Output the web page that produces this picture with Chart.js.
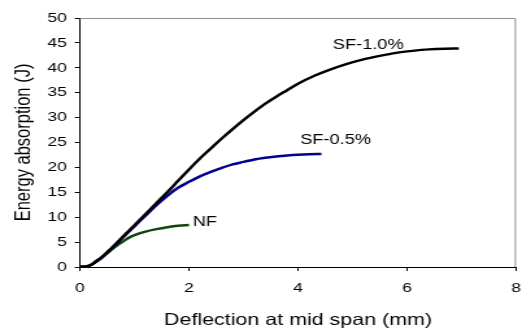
<!DOCTYPE html>
<html>
<head>
<meta charset="utf-8">
<script src="https://cdn.jsdelivr.net/npm/chart.js@4/dist/chart.umd.min.js"></script>
<style>
  html, body { margin: 0; padding: 0; background: #fff; }
</style>
</head>
<body>
<!-- the original picture is stretched sideways, so the canvas is too -->
<canvas id="chart" width="402" height="331" style="width:522px;height:331px;display:block"></canvas>
<script>
/*====================================
        DATA
====================================*/

const sf10X = [0, 0.1, 0.2, 0.3, 0.4, 0.5, 0.6, 0.8, 1.0, 1.2, 1.4, 1.6, 1.8, 2.0, 2.2, 2.4, 2.6, 2.8, 3.0, 3.2, 3.4, 3.6, 3.8, 4.0, 4.3, 4.6, 4.9, 5.2, 5.5, 5.8, 6.1, 6.4, 6.7, 6.95];
const sf10Y = [0, 0.1, 0.4, 1.2, 2.0, 3.0, 4.0, 6.2, 8.4, 10.6, 12.8, 15.0, 17.3, 19.6, 21.8, 23.8, 25.8, 27.7, 29.5, 31.2, 32.8, 34.2, 35.5, 36.8, 38.4, 39.7, 40.8, 41.7, 42.4, 43.0, 43.4, 43.7, 43.85, 43.9];

const sf05X = [0, 0.1, 0.2, 0.3, 0.4, 0.5, 0.6, 0.8, 1.0, 1.2, 1.4, 1.6, 1.8, 2.0, 2.2, 2.4, 2.6, 2.8, 3.0, 3.2, 3.4, 3.6, 3.8, 4.0, 4.2, 4.43];
const sf05Y = [0, 0.1, 0.4, 1.1, 1.9, 2.9, 3.9, 6.1, 8.2, 10.3, 12.4, 14.3, 15.9, 17.1, 18.2, 19.1, 19.9, 20.6, 21.1, 21.6, 21.95, 22.2, 22.4, 22.55, 22.65, 22.7];

const nfX = [0, 0.1, 0.2, 0.3, 0.4, 0.5, 0.6, 0.7, 0.8, 0.9, 1.0, 1.2, 1.4, 1.6, 1.8, 2.0];
const nfY = [0, 0.1, 0.4, 1.1, 1.9, 2.8, 3.7, 4.5, 5.2, 5.9, 6.4, 7.1, 7.6, 8.0, 8.3, 8.45];

const seriesNames = ["SF-1.0%", "SF-0.5%", "NF"];
const labelAnchorX = [4.64, 4.04, 2.07];
const labelAnchorY = [44.6, 25.5, 9.0];

const xTicks = [0, 2, 4, 6, 8];
const yTicks = [0, 5, 10, 15, 20, 25, 30, 35, 40, 45, 50];

const FONT = '"Liberation Sans", Arial, sans-serif';

function toPoints(xs, ys){
    return xs.map((x, i) => ({ x: x, y: ys[i] }));
}

/*====================================
        BORDER + CURVE LABELS
====================================*/

const extras = {
    id: "extras",
    beforeDatasetsDraw(chart){
        const { ctx, chartArea: a } = chart;
        ctx.save();
        ctx.strokeStyle = "#8c8c8c";
        ctx.lineWidth = 1;
        ctx.beginPath();
        ctx.moveTo(a.left, a.top + 0.5);
        ctx.lineTo(a.right - 0.5, a.top + 0.5);
        ctx.lineTo(a.right - 0.5, a.bottom);
        ctx.stroke();
        ctx.restore();
    },
    afterDatasetsDraw(chart){
        const { ctx, scales } = chart;
        ctx.save();
        ctx.font = "14px " + FONT;
        ctx.fillStyle = "#000";
        ctx.textAlign = "left";
        ctx.textBaseline = "middle";
        seriesNames.forEach((name, i) => {
            ctx.fillText(
                name,
                scales.x.getPixelForValue(labelAnchorX[i]),
                scales.y.getPixelForValue(labelAnchorY[i])
            );
        });
        ctx.restore();
    }
};

/*====================================
            CHART
====================================*/

const lineStyle = {
    showLine: true,
    pointRadius: 0,
    borderWidth: 2.5,
    fill: false,
    cubicInterpolationMode: "monotone"
};

new Chart(document.getElementById("chart"), {
    type: "scatter",
    data: {
        datasets: [
            Object.assign({ label: seriesNames[0], data: toPoints(sf10X, sf10Y), borderColor: "#000000" }, lineStyle),
            Object.assign({ label: seriesNames[1], data: toPoints(sf05X, sf05Y), borderColor: "#00008f" }, lineStyle),
            Object.assign({ label: seriesNames[2], data: toPoints(nfX, nfY), borderColor: "#0d460d" }, lineStyle)
        ]
    },
    options: {
        responsive: false,
        animation: false,
        devicePixelRatio: 1,
        layout: { padding: { top: 18, right: 4.6, left: 0, bottom: 0 } },
        plugins: {
            legend: { display: false },
            tooltip: { enabled: false }
        },
        scales: {
            x: {
                type: "linear",
                min: 0,
                max: 8,
                afterBuildTicks: s => { s.ticks = xTicks.map(v => ({ value: v })); },
                afterFit: s => {
                    s.height = 64;
                    s.paddingLeft = 0;
                    s.paddingRight = 0;
                },
                ticks: { color: "#000", padding: 9, font: { family: FONT, size: 13.5 } },
                grid: { drawOnChartArea: false, drawTicks: true, tickLength: 4, color: "#000" },
                border: { color: "#000", width: 1 },
                title: {
                    display: true,
                    text: "Deflection at mid span (mm)",
                    color: "#000",
                    font: { family: FONT, size: 16.5 },
                    padding: { top: 0, bottom: 1 }
                }
            },
            y: {
                type: "linear",
                min: 0,
                max: 50,
                afterBuildTicks: s => { s.ticks = yTicks.map(v => ({ value: v })); },
                afterFit: s => {
                    s.width = 61.6;
                    s.paddingTop = 0;
                    s.paddingBottom = 0;
                },
                ticks: { color: "#000", padding: 6, font: { family: FONT, size: 13.5 } },
                grid: { drawOnChartArea: false, drawTicks: true, tickLength: 4, color: "#000" },
                border: { color: "#000", width: 1 },
                title: {
                    display: true,
                    text: "Energy absorption (J)",
                    color: "#000",
                    font: { family: FONT, size: 16.5 },
                    padding: { top: 8.5, bottom: 0 }
                }
            }
        }
    },
    plugins: [extras]
});
</script>
</body>
</html>
